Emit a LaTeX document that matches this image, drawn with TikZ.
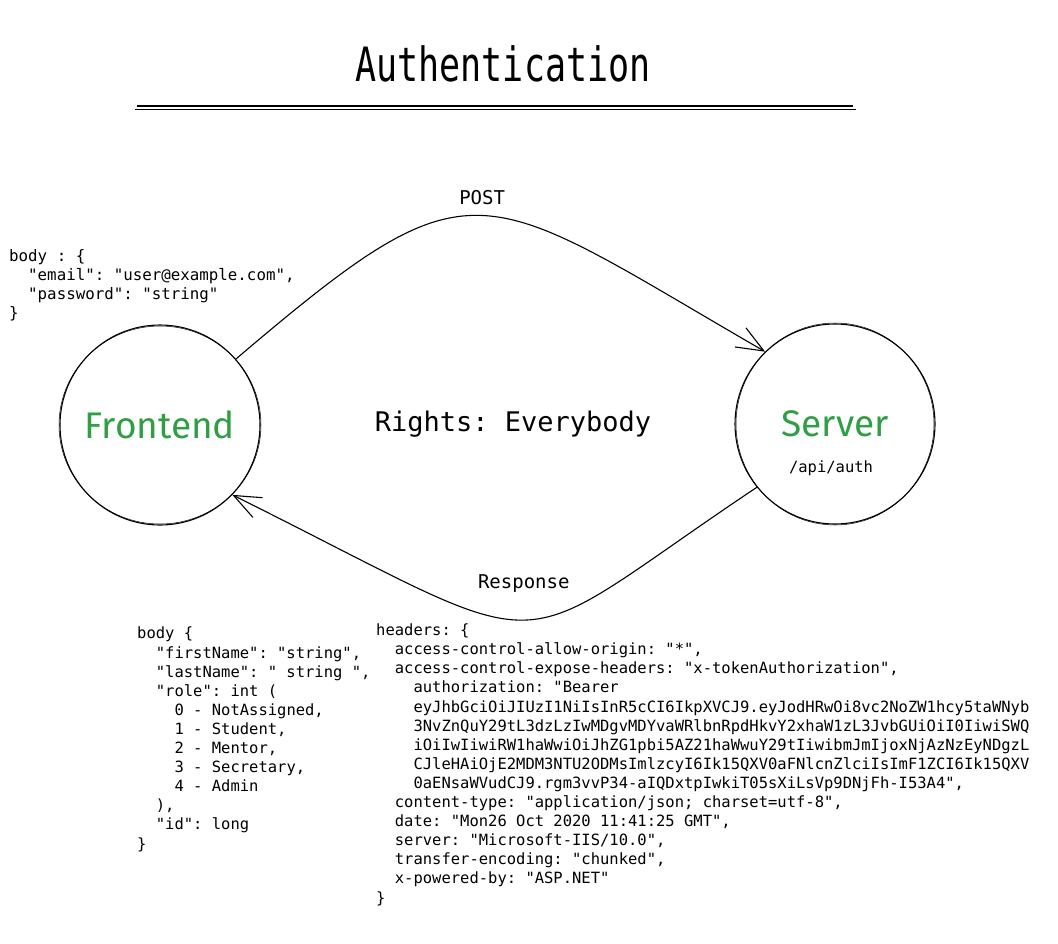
\documentclass[tikz,border=0pt]{standalone}
\usepackage{fontspec}
\setmonofont{DejaVu Sans Mono}
\newfontfamily\handfont{Fira Sans}
\usetikzlibrary{arrows.meta}
\definecolor{handgreen}{HTML}{2F9E44}
\tikzset{x=1pt, y=-1pt,
    party/.style={
        circle,
        draw,
        line width=1.1pt,
        minimum size=200pt,
        inner sep=0pt},
    actor/.style={
        font=\handfont\fontsize{37}{37}\selectfont,
        text=handgreen},
    sketch/.style={
        draw,
        line width=0.5pt},
    codeblock/.style={
        align=left,
        anchor=base west,
        inner sep=0pt,
        font=\ttfamily\fontsize{15.5}{19.1}\selectfont},
    lbl/.style={
        inner sep=0pt,
        font=\ttfamily\fontsize{19}{19}\selectfont},
    flow/.style={
        draw,
        line width=1.1pt,
        -{Straight Barb[length=27pt,width=22pt]}}}

\begin{document}
\begin{tikzpicture}
    \useasboundingbox (0,0) rectangle (1058,943);
    % title
    \node[font=\ttfamily\fontsize{35}{35}\selectfont] (title) at (503,64) {\scalebox{1}[1.35]{Authentication}};
    \draw[line width=1.4pt] (137,106) -- (853,106);
    \draw[line width=1.4pt] (135,109.5) -- (856,109.5);

    \node[party,actor] (fe) at (160,425) {Frontend};
    \node[party,actor] (srv) at (835,424) {Server};
    \draw[sketch] (fe.center) ellipse [x radius=101pt, y radius=99pt];
    \draw[sketch] (srv.center) ellipse [x radius=99pt, y radius=101pt];
    \node[font=\ttfamily\fontsize{15.5}{15.5}\selectfont] (route) at (831,468) {/api/auth};
    \node[font=\ttfamily\fontsize{27}{27}\selectfont] (rights) at (513,424) {Rights: Everybody};

    \draw[flow] (fe.41) .. controls (477,154) and (475,184) .. node[midway, above=10pt, lbl] {POST} (srv.134);
    \draw[flow] (srv.219) .. controls (495,662) and (572,664) .. node[midway, above=27pt, lbl] {Response} (fe.316);

    % request and response bodies (anchored at the last line)
    \node[codeblock, font=\ttfamily\fontsize{15.8}{19}\selectfont] (request) at (9,318) {body : \{\\
        \phantom{xx}"email": "user@example.com",\\
        \phantom{xx}"password": "string"\\
        \}};
    \node[codeblock] (user) at (137,849) {body \{\\
        \phantom{xx}"firstName": "string",\\
        \phantom{xx}"lastName": " string ",\\
        \phantom{xx}"role": int (\\
        \phantom{xxxx}0 - NotAssigned,\\
        \phantom{xxxx}1 - Student,\\
        \phantom{xxxx}2 - Mentor,\\
        \phantom{xxxx}3 - Secretary,\\
        \phantom{xxxx}4 - Admin\\
        \phantom{xx}),\\
        \phantom{xx}"id": long\\
        \}};
    \node[codeblock] (headers) at (376,903) {headers: \{\\
        \phantom{xx}access-control-allow-origin: "*",\\
        \phantom{xx}access-control-expose-headers: "x-tokenAuthorization",\\
        \phantom{xxxx}authorization: "Bearer\\
        \phantom{xxxx}eyJhbGciOiJIUzI1NiIsInR5cCI6IkpXVCJ9.eyJodHRwOi8vc2NoZW1hcy5taWNyb\\
        \phantom{xxxx}3NvZnQuY29tL3dzLzIwMDgvMDYvaWRlbnRpdHkvY2xhaW1zL3JvbGUiOiI0IiwiSWQ\\
        \phantom{xxxx}iOiIwIiwiRW1haWwiOiJhZG1pbi5AZ21haWwuY29tIiwibmJmIjoxNjAzNzEyNDgzL\\
        \phantom{xxxx}CJleHAiOjE2MDM3NTU2ODMsImlzcyI6Ik15QXV0aFNlcnZlciIsImF1ZCI6Ik15QXV\\
        \phantom{xxxx}0aENsaWVudCJ9.rgm3vvP34-aIQDxtpIwkiT05sXiLsVp9DNjFh-I53A4",\\
        \phantom{xx}content-type: "application/json; charset=utf-8",\\
        \phantom{xx}date: "Mon26 Oct 2020 11:41:25 GMT",\\
        \phantom{xx}server: "Microsoft-IIS/10.0",\\
        \phantom{xx}transfer-encoding: "chunked",\\
        \phantom{xx}x-powered-by: "ASP.NET"\\
        \}};
\end{tikzpicture}
\end{document}
